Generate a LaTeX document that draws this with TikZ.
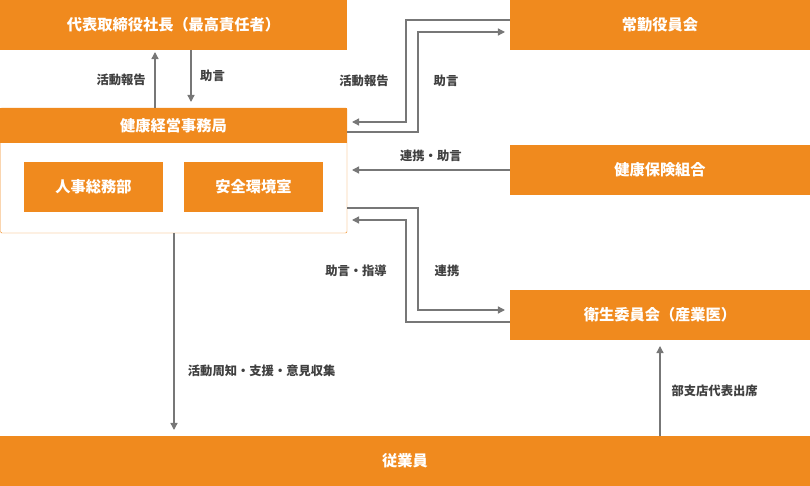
\documentclass[tikz,border=0pt]{standalone}
\usepackage{fontspec}
\newfontfamily\jp{Noto Sans CJK JP}
\usetikzlibrary{arrows.meta, positioning}
\definecolor{boxorange}{HTML}{F08A1E}
\definecolor{linegray}{HTML}{777777}

\begin{document}
\begin{tikzpicture}[x=0.03cm,y=-0.03cm,
  orangebox/.style={fill=boxorange, text=white, font=\jp\bfseries\fontsize{13pt}{15pt}\selectfont, inner sep=0pt, minimum height=1.5cm},
  flow/.style={draw=linegray, line width=1.1pt, -{Triangle[length=6pt,width=6pt]}},
  lbl/.style={font=\jp\bfseries\fontsize{10.5pt}{12pt}\selectfont, text=black!75}]
  \useasboundingbox (0,0) rectangle (810,486);
  % boxes
  \node[orangebox, minimum width=10.41cm] (ceo) at (173.5,25) {代表取締役社長（最高責任者）};
  \node[orangebox, minimum width=9cm] (board) at (660,25) {常勤役員会};
  \draw[boxorange, fill=white, rounded corners=1pt] (0.5,108) rectangle (347,233);
  \node[orangebox, minimum width=10.41cm, minimum height=1.05cm] (office) at (173.5,125.5) {健康経営事務局};
  \node[orangebox, minimum width=4.17cm] (hr) at (93.5,187) {人事総務部};
  \node[orangebox, minimum width=4.17cm] (safety) at (253.5,187) {安全環境室};
  \node[orangebox, minimum width=9cm] (union) at (660,170) {健康保険組合};
  \node[orangebox, minimum width=9cm] (comm) at (660,315) {衛生委員会（産業医）};
  \node[orangebox, minimum width=24.3cm] (staff) at (405,461) {従業員};
  % coordinates
  \coordinate (c1) at (406,20);
  \coordinate (c2) at (418,32);
  \coordinate (c3) at (418,208);
  \coordinate (c4) at (406,220);
  % connectors
  \draw[flow] (155,108) -- (155,52) node[lbl, midway, left=4pt] {活動報告};
  \draw[flow] (191,50) -- (191,102) node[lbl, midway, right=4pt] {助言};
  \draw[flow] (board.west |- c1) -- (c1) -- (c1 |- 0,122) -- (352,122);
  \draw[flow] (347,132) -- (c2 |- 0,132) -- (c2) -- (505,32);
  \node[lbl] at (364,81) {活動報告};
  \node[lbl] at (446,81) {助言};
  \draw[flow] (union.west) -- (352,170) node[lbl, midway, above=3pt] {連携・助言};
  \draw[flow] (347,208) -- (c3) -- (c3 |- 0,310) -- (505,310);
  \draw[flow] (comm.west |- 0,322) -- (c4 |- 0,322) -- (c4) -- (352,220);
  \node[lbl] at (356,271) {助言・指導};
  \node[lbl] at (447,271) {連携};
  \draw[flow] (174,233) -- (174,430) node[lbl, pos=0.7, right=8pt] {活動周知・支援・意見収集};
  \draw[flow] (staff.north -| 660,0) -- (660,346) node[lbl, midway, right=6pt] {部支店代表出席};
\end{tikzpicture}
\end{document}
